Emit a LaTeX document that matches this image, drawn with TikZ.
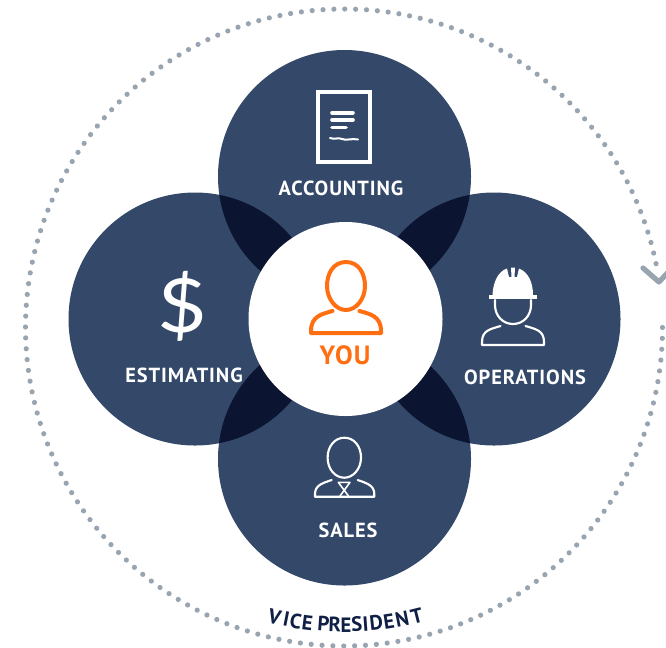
\documentclass[tikz,border=0pt]{standalone}
\usepackage{fontspec}
\setmainfont{PT Sans}
\newfontfamily\lbl[LetterSpace=4.5]{PT Sans Bold}
\newfontfamily\vpf{PT Sans Bold}
\newfontfamily\dollarf{Lato}
\definecolor{navy}{HTML}{34496A}
\definecolor{deep}{HTML}{0B1430}
\definecolor{ring}{HTML}{98A4B0}
\definecolor{you}{HTML}{FF6F12}
\definecolor{vp}{HTML}{0F1F45}
\tikzset{
  bigc/.style={circle,fill=navy,minimum size=189.75pt,inner sep=0pt},
  midc/.style={circle,fill=white,minimum size=145.5pt,inner sep=0pt},
  lab/.style={text=white,font=\lbl\fontsize{15.3pt}{16pt}\selectfont,inner sep=0pt},
  ico/.style={draw=white,line width=1.6pt,line cap=round,line join=round},
  icy/.style={draw=you,line width=3pt,line cap=round,line join=round},
  vplet/.style={text=vp,font=\vpf\fontsize{15.5pt}{16pt}\selectfont,inner sep=0pt,anchor=base},
}
\begin{document}
\begin{tikzpicture}[x=0.75pt,y=-0.75pt]
\useasboundingbox (0,0) rectangle (666,647);
\fill[white] (0,0) rectangle (666,647);
% dotted ring
\begin{scope}
\clip (0,0) rectangle (666,647);
\foreach \a in {0,...,178}{
  \pgfmathsetmacro{\t}{\a*1.9575}
  \fill[ring] ({344+318.5*cos(\t)},{327.5+318.5*sin(\t)}) circle (2.6);
}
\coordinate (hl) at (643,268);
\coordinate (hm) at (659,282);
\coordinate (hr) at (672,268);
\draw[ring,line width=3.9pt,line cap=round,line join=round] (hl) -- (hm) -- (hr);
\end{scope}
% circles
\node[bigc] (top) at (344.5,176.5) {};
\node[bigc] (left) at (195,319) {};
\node[bigc] (right) at (494,319) {};
\node[bigc] (bottom) at (344.5,459) {};
\begin{scope}
\clip (344.5,176.5) circle (126.5);
\fill[deep] (195,319) circle (126.5);
\fill[deep] (494,319) circle (126.5);
\end{scope}
\begin{scope}
\clip (344.5,459) circle (126.5);
\fill[deep] (195,319) circle (126.5);
\fill[deep] (494,319) circle (126.5);
\end{scope}
\node[midc] (mid) at (345.5,319) {};
% accounting icon
\draw[white,line width=3pt] (317.5,91.5) rectangle (369.5,161.5);
\draw[ico,line width=2.7pt] (332,112.7) -- (353,112.7) (332,120) -- (353,120) (332,127.5) -- (346,127.5);
\draw[ico,line width=1.5pt] (330,138) .. controls (335,140) and (338,137) .. (342,139) .. controls (346,141) and (352,138) .. (358,139.5);
\node[lab] (acc) at (341,188) {ACCOUNTING};
% dollar
\node[text=white,font=\dollarf\fontsize{56pt}{56pt}\selectfont,inner sep=0pt,xscale=1.15] (dol) at (182,306) {\$};
\node[lab] (est) at (184,375) {ESTIMATING};
% you
\draw[icy] (346,262) .. controls (359,262) and (365,274) .. (365,286) .. controls (365,299) and (356,310) .. (346,310) .. controls (336,310) and (327,299) .. (327,286) .. controls (327,274) and (333,262) .. (346,262) -- cycle;
\draw[icy] (332.5,311) .. controls (322,314) and (311,316) .. (311,331) -- (311,333) -- (381,333) -- (381,331) .. controls (381,316) and (370,314) .. (359.5,311);
\node[text=you,font=\lbl\fontsize{19.8pt}{20pt}\selectfont,inner sep=0pt] (yo) at (345,355) {YOU};
% operations
\fill[white] (492.5,295) .. controls (493,281) and (499,271) .. (507,268.5) -- (509,277) -- (511.5,277) -- (511,267.5) -- (515,267.5) -- (514.5,277) -- (517,277) -- (519,268.5) .. controls (528,272) and (533,282) .. (533,295) -- cycle;
\draw[white,line width=2.7pt] (489,297) -- (537,297);
\draw[ico] (495,300) -- (495,305) .. controls (495,316) and (503,324) .. (513,324) .. controls (523,324) and (531,316) .. (531,305) -- (531,300);
\draw[ico] (500.5,326) .. controls (491,329) and (482,330) .. (482,342) -- (482,345) -- (544,345) -- (544,342) .. controls (544,330) and (535,329) .. (525.5,326);
\node[lab] (ops) at (525,377) {OPERATIONS};
% sales
\draw[ico] (344.3,437.7) .. controls (354,437.7) and (361,446) .. (361,457.7) .. controls (361,469) and (353,477.7) .. (344.3,477.7) .. controls (335,477.7) and (327.6,469) .. (327.6,457.7) .. controls (327.6,446) and (335,437.7) .. (344.3,437.7) -- cycle;
\draw[ico] (331.7,480) .. controls (323,483) and (315,485) .. (315,494) -- (315,496.7) -- (374.3,496.7) -- (374.3,494) .. controls (374.3,485) and (366,483) .. (357.7,480);
\draw[ico,line width=1.2pt] (338.3,482.3) -- (350,482.3) -- (340,496) (338.3,482.3) -- (348.5,496);
\node[lab] (sal) at (348,530) {SALES};
% vice president, letter by letter on an arc concentric with the ring
\foreach \c/\x in {V/273,I/285,C/294.5,E/306.5,P/323,R/334.5,E/346,S/357,I/366,D/377,E/390,N/403.5,T/418.5}{
  \pgfmathsetmacro{\p}{asin((\x-344)/304.5)}
  \node[vplet,rotate=\p] at ({344+304.5*sin(\p)},{327.5+304.5*cos(\p)}) {\c};
}
\end{tikzpicture}
\end{document}
